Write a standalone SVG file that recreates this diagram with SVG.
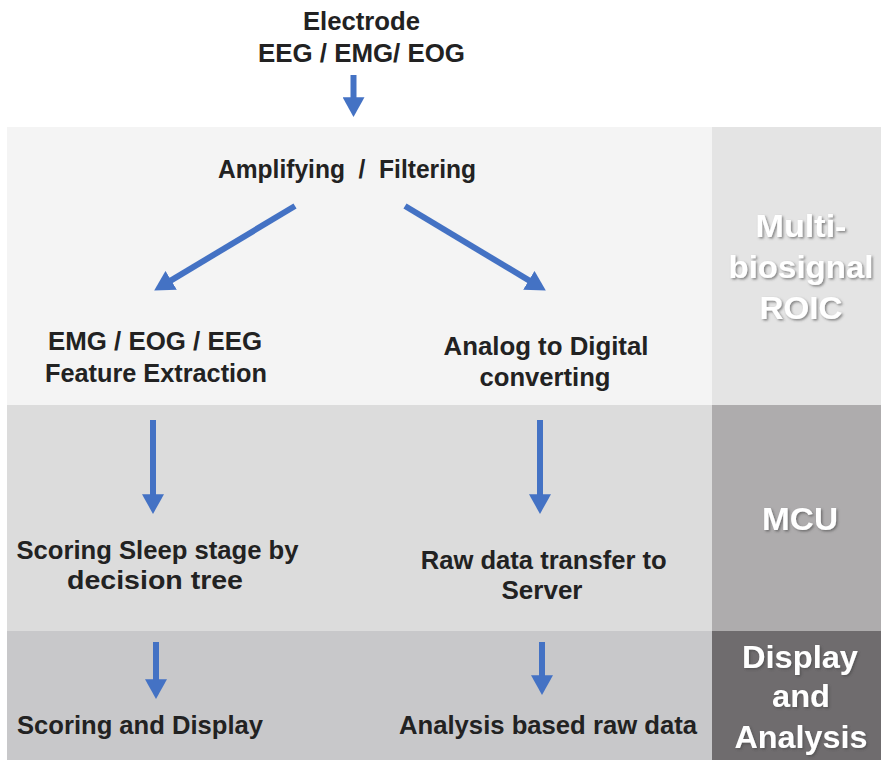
<svg xmlns="http://www.w3.org/2000/svg" width="881" height="760" viewBox="0 0 881 760">
<style>
.t{font-family:"Liberation Sans",Arial,sans-serif;font-weight:bold;font-size:25px;fill:#222;text-anchor:middle}
.w{font-family:"Liberation Sans",Arial,sans-serif;font-weight:bold;font-size:31px;fill:#fff;text-anchor:middle;filter:url(#sh)}
.a{stroke:#4472c4;stroke-width:6;fill:none;marker-end:url(#ah)}
</style>
<defs>
<marker id="ah" markerUnits="userSpaceOnUse" markerWidth="20" markerHeight="22" viewBox="0 0 18 20" refX="8" refY="10" orient="auto">
<path d="M0,0 L18,10 L0,20 z" fill="#4472c4"/>
</marker>
<filter id="sh" x="-20%" y="-30%" width="140%" height="160%">
<feDropShadow dx="1.5" dy="1.5" stdDeviation="1" flood-color="#444" flood-opacity="0.6"/>
</filter>
</defs>
<rect width="881" height="760" fill="#fff"/>
<g id="bands">
<rect x="7" y="127" width="705" height="278" fill="#f4f4f4"/>
<rect x="712" y="127" width="169" height="278" fill="#e4e4e4"/>
<rect x="7" y="405" width="705" height="226" fill="#dcdcdc"/>
<rect x="712" y="405" width="169" height="226" fill="#aeacad"/>
<rect x="7" y="631" width="705" height="129" fill="#c8c8ca"/>
<rect x="712" y="631" width="169" height="129" fill="#6f6c6e"/>
</g>
<g id="label-roic"><text class="w" x="801" y="237" textLength="91" lengthAdjust="spacingAndGlyphs">Multi-</text><text class="w" x="801" y="278" textLength="145" lengthAdjust="spacingAndGlyphs">biosignal</text><text class="w" x="801" y="319" textLength="83" lengthAdjust="spacingAndGlyphs">ROIC</text></g>
<g id="label-mcu"><text class="w" x="800" y="530" textLength="76" lengthAdjust="spacingAndGlyphs">MCU</text></g>
<g id="label-display"><text class="w" x="800" y="668" textLength="116" lengthAdjust="spacingAndGlyphs">Display</text><text class="w" x="801" y="707" textLength="58" lengthAdjust="spacingAndGlyphs">and</text><text class="w" x="801" y="748" textLength="133" lengthAdjust="spacingAndGlyphs">Analysis</text></g>
<g id="connectors">
<line class="a" x1="353.5" y1="75" x2="353.5" y2="106"/>
<line class="a" x1="295" y1="206" x2="163.6" y2="284.9"/>
<line class="a" x1="405" y1="206" x2="536.4" y2="284.9"/>
<line class="a" x1="153" y1="420" x2="153" y2="503"/>
<line class="a" x1="540" y1="420" x2="540" y2="503"/>
<line class="a" x1="156" y1="642" x2="156" y2="688"/>
<line class="a" x1="542" y1="642" x2="542" y2="684"/>
</g>
<g id="electrode"><text class="t" x="361.5" y="30" textLength="117" lengthAdjust="spacingAndGlyphs">Electrode</text><text class="t" x="361.5" y="62" textLength="207" lengthAdjust="spacingAndGlyphs">EEG / EMG/ EOG</text></g>
<g id="amplifying"><text class="t" x="347" y="178" textLength="258" lengthAdjust="spacingAndGlyphs" xml:space="preserve">Amplifying  /  Filtering</text></g>
<g id="feature"><text class="t" x="155" y="350" textLength="214" lengthAdjust="spacingAndGlyphs">EMG / EOG / EEG</text><text class="t" x="156" y="382" textLength="222" lengthAdjust="spacingAndGlyphs">Feature Extraction</text></g>
<g id="adc"><text class="t" x="546" y="355" textLength="205" lengthAdjust="spacingAndGlyphs">Analog to Digital</text><text class="t" x="545" y="386" textLength="131" lengthAdjust="spacingAndGlyphs">converting</text></g>
<g id="scoring"><text class="t" x="157.5" y="559" textLength="282" lengthAdjust="spacingAndGlyphs">Scoring Sleep stage by</text><text class="t" x="155" y="589" textLength="176" lengthAdjust="spacingAndGlyphs">decision tree</text></g>
<g id="transfer"><text class="t" x="543.7" y="569" textLength="246" lengthAdjust="spacingAndGlyphs">Raw data transfer to</text><text class="t" x="542" y="599" textLength="81" lengthAdjust="spacingAndGlyphs">Server</text></g>
<g id="display"><text class="t" x="140" y="734" textLength="246" lengthAdjust="spacingAndGlyphs">Scoring and Display</text></g>
<g id="analysis"><text class="t" x="548" y="734" textLength="298" lengthAdjust="spacingAndGlyphs">Analysis based raw data</text></g>
</svg>
